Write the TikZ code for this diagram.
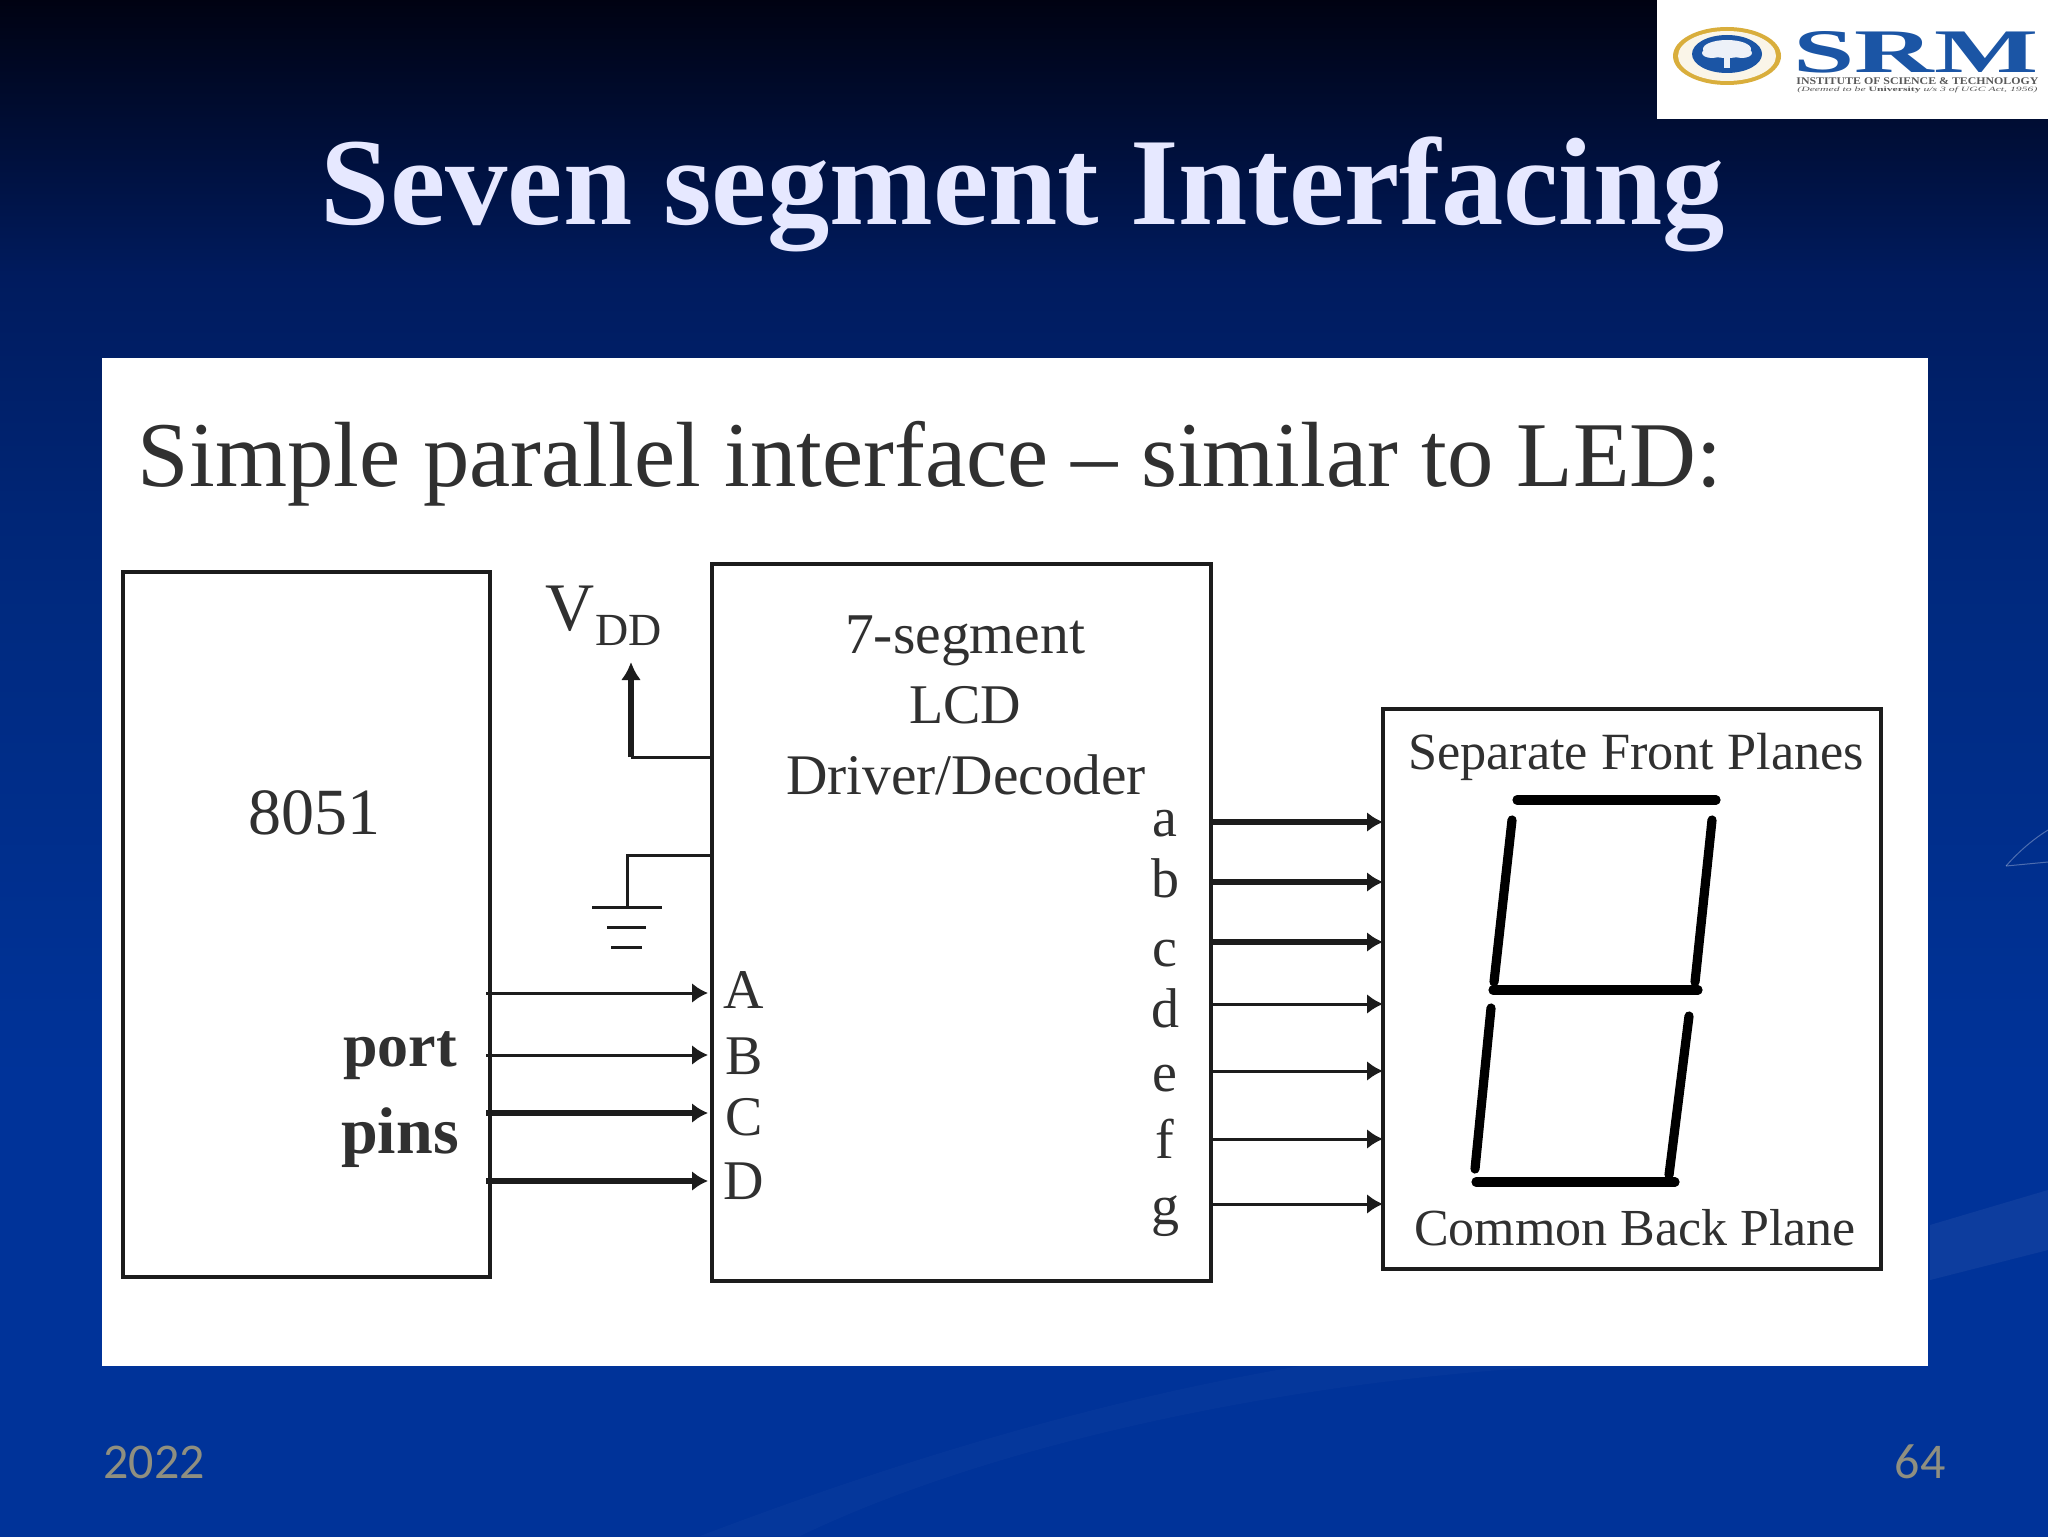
\documentclass[tikz,border=0pt]{standalone}
\usepackage{fontspec}
\usepackage{graphicx}
\setmainfont{Liberation Serif}
\newfontfamily\footfont{Carlito}
\usetikzlibrary{arrows.meta}
\definecolor{bgA}{HTML}{000212}
\definecolor{bgB}{HTML}{001B5E}
\definecolor{bgC}{HTML}{002A80}
\definecolor{bgD}{HTML}{003399}
\definecolor{ink}{HTML}{1C1C1C}
\definecolor{txt}{HTML}{303030}
\definecolor{titlec}{HTML}{E6E8FF}
\definecolor{footc}{HTML}{8F8F80}
\definecolor{srmblue}{HTML}{1B55A5}
\definecolor{gold}{HTML}{D9AE3C}
\pgfdeclareverticalshading{slidebg}{100bp}{color(0bp)=(bgD); color(25bp)=(bgD); color(40bp)=(bgD); color(55bp)=(bgC); color(66bp)=(bgB); color(75bp)=(bgA); color(100bp)=(bgA)}
\newcommand{\fitw}[2]{\resizebox{#1pt}{!}{#2}}
\tikzset{
  box/.style={draw=ink,line width=1.8pt,fill=white,inner sep=0pt,outer sep=0pt},
  lab/.style={anchor=base,inner sep=0pt,text=txt,font=\fontsize{28}{30}\selectfont},
  thinw/.style={draw=ink,line width=1.5pt,-{Latex[length=8pt,width=10pt]}},
  thickw/.style={draw=ink,line width=2.7pt,-{Latex[length=8pt,width=10pt]}},
  wire/.style={draw=ink,line width=1.5pt},
  segbar/.style={draw=black,line width=4.6pt,line cap=round},
  foot/.style={anchor=base,inner sep=0pt,text=footc,font=\footfont\fontsize{25}{27}\selectfont},
}
\begin{document}
\begin{tikzpicture}[x=0.5pt,y=-0.5pt]
\useasboundingbox (0,0) rectangle (2048,1536);
\shade[shading=slidebg] (0,0) rectangle (2048,1536);
% faint background swooshes
\fill[white,opacity=0.05] (1930,1225) -- (2048,1190) -- (2048,1250) -- (1930,1280) -- cycle;
\fill[white,opacity=0.02] (800,1536) .. controls (1000,1440) and (1300,1380) .. (1560,1366) -- (1300,1366) .. controls (1100,1400) and (900,1460) .. (700,1536) -- cycle;
\draw[white,opacity=0.3,line width=0.5pt] (2006,866) .. controls (2020,850) and (2035,838) .. (2048,830);
\draw[white,opacity=0.3,line width=0.5pt] (2006,866) -- (2048,862);
% logo
\fill[white] (1657,0) rectangle (2048,119);
\fill[gold] (1727,56) ellipse [x radius=54,y radius=29];
\fill[white!88!gold] (1727,56) ellipse [x radius=49,y radius=25];
\fill[srmblue] (1727,54) ellipse [x radius=35,y radius=19];
\fill[white!92!srmblue] (1727,49) ellipse [x radius=24,y radius=9];
\fill[white!92!srmblue] (1712,53) ellipse [x radius=10,y radius=5];
\fill[white!92!srmblue] (1742,53) ellipse [x radius=10,y radius=5];
\fill[white!92!srmblue] (1724,55) rectangle (1730,68);
\node[anchor=base west,inner sep=0pt,text=srmblue] (srm) at (1793,73) {\resizebox{122.5pt}{20.5pt}{\textbf{SRM}}};
\node[anchor=base west,inner sep=0pt,text=black!65] (inst) at (1796,85) {\resizebox{121pt}{3.4pt}{\textbf{INSTITUTE OF SCIENCE \& TECHNOLOGY}}};
\node[anchor=base west,inner sep=0pt,text=black!65] (deem) at (1797,92) {\resizebox{120pt}{2.3pt}{\textit{(Deemed to be }\textbf{University}\textit{ u/s 3 of UGC Act, 1956)}}};
% title
\node[anchor=base,inner sep=0pt,text=titlec] (title) at (1023,224) {\fitw{702}{\textbf{Seven segment Interfacing}}};
% white panel
\fill[white] (102,358) rectangle (1928,1366);
\node[anchor=base,inner sep=0pt,text=txt] (head) at (930,486) {\fitw{792}{Simple parallel interface -- similar to LED:}};
% boxes
\node[box,minimum width=183.5pt,minimum height=352.5pt,anchor=north west] (mcu) at (123,572) {};
\node[box,minimum width=249.5pt,minimum height=358.5pt,anchor=north west] (drv) at (712,564) {};
\node[box,minimum width=249pt,minimum height=280pt,anchor=north west] (seg) at (1383,709) {};
% 8051 labels
\node[lab,font=\fontsize{33}{35}\selectfont] (n8051) at (314,834) {8051};
\node[lab,font=\bfseries\fontsize{31}{33}\selectfont] (port) at (400,1066) {port};
\node[lab,font=\bfseries\fontsize{33}{35}\selectfont] (pins) at (400,1153) {pins};
% driver labels
\node[lab] (d1) at (965,653) {\fitw{120}{7-segment}};
\node[lab] (d2) at (965,723) {\fitw{56}{LCD}};
\node[lab] (d3) at (966,794) {\fitw{180}{Driver/Decoder}};
% VDD
\node[anchor=base west,inner sep=0pt,text=txt,font=\fontsize{34}{36}\selectfont] (vv) at (545,630) {V};
\node[anchor=base west,inner sep=0pt,text=txt,font=\fontsize{23}{25}\selectfont] (vd) at (595,645) {DD};
\coordinate (vtap) at (712,757);
\coordinate (vcor) at (631,757);
\coordinate (vtop) at (631,662);
\draw[wire] (vtap) -- (vcor);
\draw[draw=ink,line width=3pt,-{Latex[length=9pt,width=10pt]}] (vcor) -- (vtop);
% ground
\coordinate (gtap) at (712,855);
\coordinate (gcor) at (627,855);
\coordinate (g1) at (627,907);
\draw[wire] (gtap) -- (gcor) -- (g1);
\draw[wire] (592,907) -- (662,907);
\draw[wire] (607,927) -- (646,927);
\draw[wire] (611,947) -- (642,947);
% inputs
\foreach \n/\y/\ly/\st in {A/993/1008/thinw,B/1055/1074/thinw,C/1113/1135/thickw,D/1181/1199/thickw}{
  \coordinate (i\n) at (486,\y);
  \coordinate (t\n) at (708,\y);
  \draw[\st] (i\n) -- (t\n);
  \node[lab] (l\n) at (744,\ly) {\n};
}
% outputs
\foreach \n/\y/\ly/\st in {a/822/836/thickw,b/882/897/thickw,c/942/966/thickw,d/1004/1027/thinw,e/1071/1091/thinw,f/1139/1158/thinw,g/1204/1224/thinw}{
  \coordinate (o\n) at (1211,\y);
  \coordinate (p\n) at (1383,\y);
  \draw[\st] (o\n) -- (p\n);
  \node[lab] (l\n) at (1165,\ly) {\n};
}
% seven segment
\node[lab] (sf) at (1636,769) {\fitw{228}{Separate Front Planes}};
\node[lab] (cb) at (1635,1245) {\fitw{221}{Common Back Plane}};
\draw[segbar] (1517,800) -- (1716,800);
\draw[segbar] (1512,820) -- (1494,982);
\draw[segbar] (1712,820) -- (1695,982);
\draw[segbar] (1493,990) -- (1698,990);
\draw[segbar] (1491,1008) -- (1475,1169);
\draw[segbar] (1689,1016) -- (1669,1175);
\draw[segbar] (1476,1182) -- (1675,1182);
% footer
\node[foot] (yr) at (154,1478) {2022};
\node[foot] (pg) at (1920,1478) {64};
\end{tikzpicture}
\end{document}
